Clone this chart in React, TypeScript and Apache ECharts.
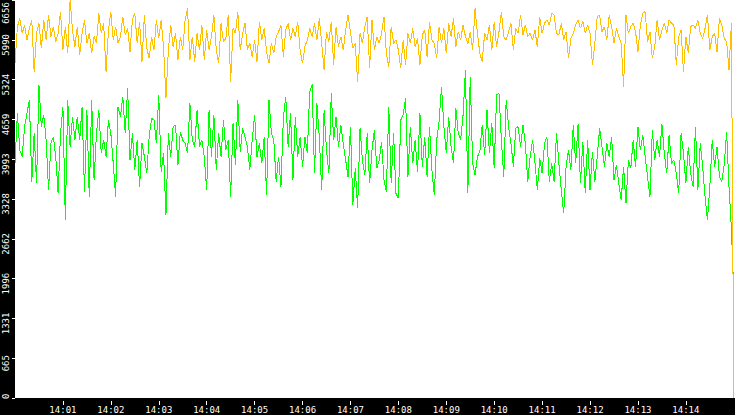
import React, { useEffect, useRef } from "react";
import * as echarts from "echarts";

// samples every few seconds from 14:00:00 to 14:15:00
const spanSec = 900;

const yellowValues = [
  5597, 6210, 6349, 6099, 6238, 5987, 6182, 6322, 5457, 6099, 6266, 5848, 6322, 5987, 6405, 6043, 6210, 5959, 6099, 6461,
  5820, 6210, 5764, 6656, 6154, 5876, 6210, 5736, 6099, 6322, 5931, 6099, 5764, 6043, 5931, 6433, 6099, 6266, 5457, 6154,
  6461, 5987, 6210, 5931, 6043, 6377, 6071, 6182, 5792, 6322, 6433, 5931, 6294, 5625, 6405, 5848, 5680, 6043, 5820, 6322,
  6015, 6322, 5876, 5011, 5820, 6238, 5876, 6099, 5653, 6043, 5820, 6322, 6517, 5653, 6043,
  5625, 6099, 5820, 6238, 5653, 6154, 5820, 6043, 6405, 5820, 5597, 6266, 5959, 6015, 6405, 5290, 6182, 6099, 6450, 5820,
  6099, 6266, 5820, 5931, 5708, 5987, 5625, 6294, 5987, 6182, 5792, 5597, 5931, 5764, 6043, 6126, 6238, 5708, 6154, 6266,
  5987, 6182, 6043, 6294, 5820, 5597, 5876, 5987, 6182, 6043, 6266, 5987, 6349, 5931, 5485, 6126, 5959, 6294, 5569, 6210,
  5876, 6043, 5820, 6154, 6405, 6126, 5848, 5931, 5290, 6099, 5931, 6210, 6377, 5513, 6322,
  5820, 6043, 5931, 6099, 6377, 5764, 5541, 6210, 5931, 5987, 5820, 5513, 5987, 5569, 6099, 5931, 6182, 5876, 6015, 5569,
  6071, 6154, 5708, 6294, 5987, 5931, 5680, 6210, 5931, 6182, 5764, 6266, 6043, 6349, 5876, 6126, 5987, 6238, 6043, 5931,
  6126, 5820, 6517, 6099, 5764, 5625, 6099, 5987, 6238, 5820, 6294, 5876, 6126, 6461, 6043, 5987, 6126, 6266, 5820, 6182,
  6099, 6405, 6071, 6238, 6043, 6099, 5987, 6154, 5876, 6377, 6099, 6266, 6322, 6238, 6433,
  6405, 6099, 6071, 6266, 5987, 6126, 5680, 6015, 6099, 6238, 6322, 6182, 6294, 6099, 6238, 6099, 5569, 5931, 6377, 6405,
  6126, 6210, 5987, 6405, 6210, 5931, 6182, 6043, 5931, 5207, 6405, 6099, 6210, 6266, 6126, 5792, 6238, 6433, 6461, 5959,
  6126, 5680, 5876, 6322, 5987, 6154, 6266, 6099, 6322, 6266, 6238, 5569, 6043, 6154, 5457, 6043, 5764, 6210, 6238, 6182,
  6322, 6099, 6015, 6182, 6405, 5820, 6043, 6099, 5792, 6349, 6238, 6015, 5959, 5485, 6266, 0,
];

const greenValues = [
  3924, 4761, 4147, 4036, 4538, 4761, 4984, 3618, 4426, 3590, 5234, 4538, 4733, 4315, 3478, 4259, 4370, 4036, 3423, 4426,
  4872, 2977, 4984, 4203, 4705, 4315, 4705, 4315, 4872, 3450, 4816, 3367, 4984, 3646, 4426, 4816, 4092, 4315, 4036, 4649,
  4426, 3924, 3367, 4872, 4705, 5039, 4426, 5179, 3980, 4426, 3813, 4315, 3534, 4259, 4036, 3757, 4370, 4677, 4649, 4259,
  5067, 3785, 4092, 3060, 4426, 4036, 4538, 4565, 3896, 4454, 4315, 4259, 4092, 4928, 4315,
  4203, 4816, 4203, 4315, 4036, 3478, 4816, 4036, 4733, 3813, 4426, 4036, 4649, 4147, 4315, 3356, 4593, 3896, 4984, 4119,
  4510, 4370, 4203, 3813, 4315, 4733, 4036, 4259, 3924, 4370, 3395, 4984, 4426, 4315, 3618, 4036, 3534, 4677, 5039, 4203,
  4761, 3646, 4705, 4036, 4370, 3869, 4370, 4092, 5123, 5246, 3757, 4928, 4370, 3478, 4816, 4147, 3757, 5095, 4315, 4705,
  4203, 4565, 4259, 3980, 3701, 4538, 3227, 3841, 3172, 4510, 3980, 3729, 4426, 3590, 4147,
  4482, 3841, 3980, 4287, 3646, 3450, 4872, 3590, 4426, 3423, 3339, 4649, 4733, 5011, 3701, 4538, 3924, 4315, 3785, 4761,
  3869, 4370, 3701, 4538, 3813, 3395, 4315, 4621, 5207, 4538, 4092, 4705, 4203, 3924, 4844, 4426, 4315, 4733, 5485, 3423,
  5374, 3924, 3729, 4036, 4119, 4565, 4064, 4816, 4092, 4593, 3841, 5067, 5095, 4315, 3701, 4984, 4538, 4259, 3869, 4510,
  4538, 4203, 4565, 4259, 3618, 4036, 4315, 3952, 3478, 4008, 3757, 4259, 4370, 3618, 3924,
  3618, 4426, 3924, 3478, 3088, 3869, 4147, 3813, 4565, 3924, 4582, 3590, 4287, 3423, 4315, 3478, 4119, 3618, 4036, 4510,
  4203, 3869, 4259, 4036, 4370, 3646, 3896, 3590, 3311, 3869, 3255, 3980, 3841, 4315, 3869, 4538, 4147, 4398, 4036, 3701,
  3367, 4482, 3980, 4315, 4036, 4582, 4092, 3757, 4398, 3924, 3980, 3757, 3423, 4426, 4092, 3590, 4203, 3757, 3534, 4538,
  3478, 4259, 3869, 3367, 2977, 3534, 4315, 3869, 4203, 3701, 3618, 3896, 4454, 3534, 2837, 1756,
];

const xTickLabels = [
  "14:01", "14:02", "14:03", "14:04", "14:05", "14:06", "14:07",
  "14:08", "14:09", "14:10", "14:11", "14:12", "14:13", "14:14",
];
const yTickLabels = ["0", "665", "1331", "1996", "2662", "3328", "3993", "4659", "5324", "5990", "6656"];
const yMax = 6656;
const yStep = 665.6;

const font = "DejaVu Sans Mono";

const toPairs = (vals: number[]) => vals.map((v, i) => [(i * spanSec) / (vals.length - 1), v]);

const Chart = () => {
  const chartRef = useRef<HTMLDivElement>(null);

  useEffect(() => {
    const myChart = echarts.init(chartRef.current!, null, { renderer: "svg" });
    const minuteTicks = xTickLabels.map((_, i) => (i + 1) * 60);
    const lbl = { color: "#fff", fontFamily: font, fontSize: 9 };

    const option = {
      animation: false,
      backgroundColor: "transparent",
      grid: {
        left: 15,
        right: 0,
        top: 0,
        bottom: 17,
        show: true,
        backgroundColor: "#fff",
        borderWidth: 0,
        containLabel: false,
        outerBoundsMode: "none",
      },
      xAxis: {
        type: "value",
        min: 0,
        max: 901.5,
        offset: 3,
        axisLine: { show: false, onZero: false },
        splitLine: { show: false },
        axisTick: {
          show: true,
          length: 4,
          customValues: minuteTicks,
          lineStyle: { color: "#fff", width: 1 },
        },
        axisLabel: {
          ...lbl,
          margin: 4,
          customValues: minuteTicks,
          formatter: (v: number) => xTickLabels[Math.round(v / 60) - 1] ?? "",
        },
      },
      yAxis: {
        type: "value",
        min: 0,
        max: yMax,
        interval: yStep,
        axisLine: { show: false },
        splitLine: { show: false },
        axisTick: { show: true, length: 3, lineStyle: { color: "#fff", width: 1 } },
        axisLabel: {
          ...lbl,
          rotate: 90,
          margin: 5,
          formatter: (v: number) => {
            const k = Math.round(v / yStep);
            const t = yTickLabels[k] ?? "";
            if (k === 0) return "{z|" + t + "}";
            if (k === yTickLabels.length - 1) return "{m|" + t + "}";
            return "{n|" + t + "}";
          },
          rich: {
            n: { ...lbl, padding: [0, 10, 0, 0] },
            m: { ...lbl, padding: [0, 26, 0, 0] },
            z: { ...lbl, padding: [0, 0, 0, 3.4] },
          },
        },
      },
      series: [
        {
          name: "green",
          type: "line",
          data: toPairs(greenValues),
          showSymbol: false,
          symbol: "none",
          silent: true,
          lineStyle: { color: "#00ff00", width: 1 },
          itemStyle: { color: "#00ff00" },
        },
        {
          name: "yellow",
          type: "line",
          data: toPairs(yellowValues),
          showSymbol: false,
          symbol: "none",
          silent: true,
          lineStyle: { color: "#ffc000", width: 1 },
          itemStyle: { color: "#ffc000" },
        },
      ],
    };
    myChart.setOption(option);

    return () => {
      myChart.dispose();
    };
  }, []);

  return <div className="chart" ref={chartRef} style={{ width: 735, height: 415, background: "#000" }}></div>;
};

const App = () => (
  <>
    <style>{"body{margin:0;} .chart path{shape-rendering:crispEdges;}"}</style>
    <Chart />
  </>
);

export default App;
